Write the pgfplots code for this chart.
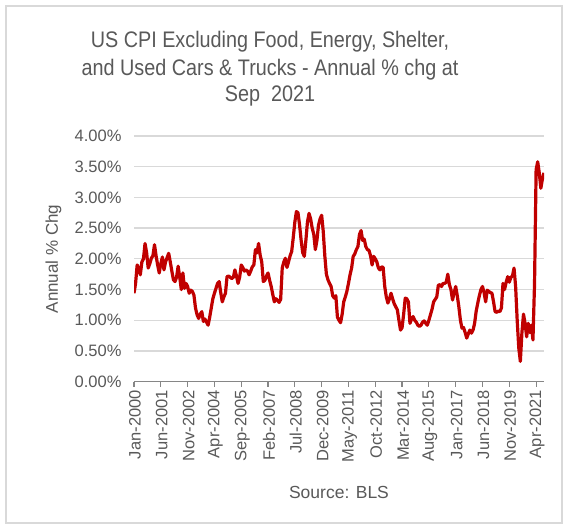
\documentclass[border=0pt]{standalone}
\usepackage{pgfplots}
\pgfplotsset{compat=1.18}
\usepackage{pgfplotstable}
\usepackage{fontspec}
\setmainfont{Liberation Sans}
\newfontfamily\titlefont[FakeStretch=0.88]{Liberation Sans}

\definecolor{cpired}{HTML}{C00000}
\definecolor{gridgray}{HTML}{D9D9D9}
\definecolor{axisgray}{HTML}{868686}
\definecolor{textgray}{HTML}{595959}
\definecolor{framegray}{HTML}{D9D9D9}

% Month index (0 = Jan-2000) and annual % change
\pgfplotstableread{
m v
0 1.44
1 1.60
2 1.90
3 1.85
4 1.74
5 1.95
6 2.00
7 2.25
8 2.10
9 1.85
10 1.92
11 2.01
12 2.05
13 2.23
14 2.05
15 1.90
16 1.77
17 1.92
18 2.03
19 1.82
20 1.95
21 2.02
22 2.09
23 1.95
24 1.80
25 1.66
26 1.63
27 1.70
28 1.88
29 1.70
30 1.50
31 1.77
32 1.52
33 1.60
34 1.55
35 1.44
36 1.49
37 1.47
38 1.41
39 1.20
40 1.09
41 1.03
42 1.10
43 1.14
44 0.98
45 1.02
46 0.97
47 0.92
48 1.05
49 1.20
50 1.35
51 1.44
52 1.52
53 1.60
54 1.63
55 1.45
56 1.30
57 1.38
58 1.44
59 1.71
60 1.72
61 1.70
62 1.68
63 1.70
64 1.82
65 1.72
66 1.60
67 1.70
68 1.90
69 1.86
70 1.80
71 1.82
72 1.80
73 1.74
74 1.80
75 1.87
76 1.90
77 2.15
78 2.10
79 2.25
80 2.06
81 1.95
82 1.63
83 1.65
84 1.72
85 1.77
86 1.65
87 1.55
88 1.42
89 1.30
90 1.35
91 1.33
92 1.29
93 1.34
94 1.85
95 1.95
96 2.01
97 1.86
98 1.95
99 2.05
100 2.12
101 2.35
102 2.60
103 2.77
104 2.75
105 2.55
106 2.30
107 2.10
108 2.04
109 2.30
110 2.60
111 2.74
112 2.65
113 2.50
114 2.40
115 2.15
116 2.30
117 2.55
118 2.65
119 2.71
120 2.45
121 2.05
122 1.75
123 1.66
124 1.60
125 1.55
126 1.40
127 1.36
128 1.40
129 1.05
130 1.00
131 0.96
132 1.10
133 1.30
134 1.38
135 1.47
136 1.60
137 1.74
138 1.85
139 2.04
140 2.08
141 2.15
142 2.20
143 2.40
144 2.46
145 2.30
146 2.32
147 2.20
148 2.15
149 2.14
150 2.05
151 1.90
152 2.04
153 2.00
154 1.95
155 1.85
156 1.82
157 1.87
158 1.86
159 1.55
160 1.38
161 1.28
162 1.35
163 1.44
164 1.35
165 1.27
166 1.22
167 1.17
168 1.00
169 0.84
170 0.88
171 1.10
172 1.36
173 1.35
174 1.30
175 0.95
176 1.02
177 1.06
178 1.00
179 0.97
180 0.92
181 0.90
182 0.92
183 0.97
184 0.99
185 0.95
186 0.92
187 1.00
188 1.09
189 1.18
190 1.30
191 1.34
192 1.38
193 1.57
194 1.58
195 1.55
196 1.60
197 1.60
198 1.62
199 1.75
200 1.58
201 1.50
202 1.33
203 1.45
204 1.55
205 1.40
206 1.22
207 1.00
208 0.87
209 0.88
210 0.80
211 0.71
212 0.78
213 0.84
214 0.79
215 0.84
216 0.95
217 1.15
218 1.28
219 1.40
220 1.50
221 1.55
222 1.45
223 1.30
224 1.49
225 1.47
226 1.45
227 1.44
228 1.30
229 1.14
230 1.13
231 1.15
232 1.14
233 1.20
234 1.60
235 1.50
236 1.62
237 1.71
238 1.62
239 1.70
240 1.72
241 1.85
242 1.55
243 1.00
244 0.55
245 0.33
246 0.80
247 1.10
248 0.95
249 0.73
250 0.95
251 0.80
252 0.92
253 0.68
254 1.60
255 3.45
256 3.58
257 3.40
258 3.15
259 3.30
260 3.40
}\cpidata

\begin{document}
\begin{tikzpicture}[x=1pt,y=1pt]
\useasboundingbox (0,0) rectangle (568,529);
\fill[white] (0,0) rectangle (568,529);
\draw[framegray, line width=1.2pt] (6,6) rectangle (562,523);

\begin{axis}[
  at={(134pt,147.3pt)}, anchor=south west,
  scale only axis, width=410pt, height=245.7pt,
  xmin=0, xmax=260, ymin=0, ymax=4,
  axis x line*=bottom, axis y line*=left,
  y axis line style={draw=none},
  x axis line style={draw=axisgray, line width=1.2pt},
  xtick={0,17,...,255},
  xticklabels={Jan-2000,Jun-2001,Nov-2002,Apr-2004,Sep-2005,Feb-2007,Jul-2008,Dec-2009,May-2011,Oct-2012,Mar-2014,Aug-2015,Jan-2017,Jun-2018,Nov-2019,Apr-2021},
  xtick align=outside,
  major tick length=5pt,
  xtick style={draw=axisgray, line width=1.2pt},
  ytick={0,0.5,...,4},
  ytick style={draw=none},
  ymajorgrids,
  grid style={gridgray, line width=1.3pt},
  tick label style={font=\fontsize{16.5}{18}\selectfont, text=textgray},
  xticklabel style={rotate=90, anchor=east, yshift=-1pt},
  yticklabel style={xshift=-9pt},
  yticklabel={\pgfmathprintnumber[fixed,fixed zerofill,precision=2]{\tick}\%},
  /pgf/number format/assume math mode=true,
]
\addplot[color=cpired, line width=3.2pt, line join=round, no marks] table[x=m, y=v] {\cpidata};
\end{axis}

\node[anchor=base, text=textgray, font=\titlefont\fontsize{22.5}{26}\selectfont] at (270,481) {US CPI Excluding Food, Energy, Shelter,};
\node[anchor=base, text=textgray, font=\titlefont\fontsize{22.5}{26}\selectfont] at (270,453) {and Used Cars \& Trucks - Annual \% chg at};
\node[anchor=base, text=textgray, font=\titlefont\fontsize{22.5}{26}\selectfont] at (270,427.3) {Sep\ \ 2021};

\node[rotate=90, text=textgray, font=\fontsize{17}{19}\selectfont] at (53.5,270) {Annual \% Chg};
\node[anchor=base, text=textgray, font=\fontsize{17.5}{19}\selectfont] at (339,30) {Source: BLS};
\end{tikzpicture}
\end{document}
